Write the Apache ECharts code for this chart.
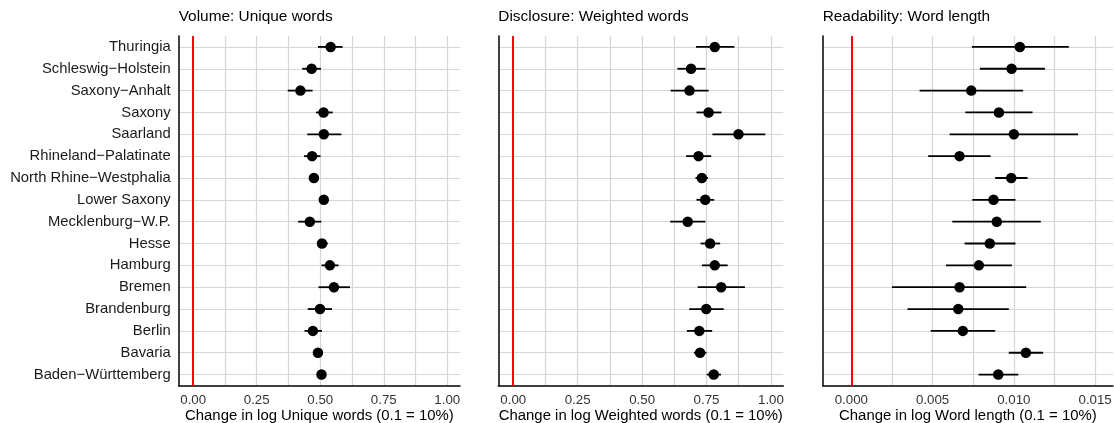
<!DOCTYPE html>
<html>
<head>
<meta charset="utf-8">
<script src="https://cdn.jsdelivr.net/npm/echarts@6/dist/echarts.min.js"></script>
<style>
html,body{margin:0;padding:0;background:#fff;}
#chart{width:1114px;height:423px;}
</style>
</head>
<body>
<div id="chart"></div>
<script>
// Categories (bottom to top)
const states = ['Baden−Württemberg','Bavaria','Berlin','Brandenburg','Bremen','Hamburg','Hesse','Mecklenburg−W.P.','Lower Saxony','North Rhine−Westphalia','Rhineland−Palatinate','Saarland','Saxony','Saxony−Anhalt','Schleswig−Holstein','Thuringia'];

// Volume: Unique words
const uniqueEst = [0.505,0.491,0.471,0.499,0.554,0.538,0.507,0.459,0.514,0.475,0.468,0.514,0.513,0.422,0.466,0.541];
const uniqueLo  = [0.491,0.478,0.438,0.451,0.493,0.505,0.488,0.413,0.499,0.462,0.436,0.449,0.483,0.372,0.429,0.491];
const uniqueHi  = [0.520,0.504,0.507,0.546,0.617,0.572,0.530,0.504,0.530,0.488,0.501,0.583,0.549,0.470,0.503,0.588];

// Disclosure: Weighted words
const weightedEst = [0.778,0.725,0.722,0.749,0.807,0.782,0.764,0.677,0.745,0.732,0.719,0.874,0.758,0.684,0.690,0.782];
const weightedLo  = [0.751,0.701,0.674,0.683,0.716,0.732,0.727,0.609,0.711,0.707,0.671,0.773,0.711,0.611,0.637,0.709];
const weightedHi  = [0.806,0.750,0.772,0.817,0.899,0.832,0.803,0.746,0.780,0.756,0.768,0.978,0.808,0.758,0.746,0.858];

// Readability: Word length
const lengthEst = [0.00904,0.01074,0.00686,0.00658,0.00666,0.00785,0.00852,0.00895,0.00875,0.00984,0.00666,0.01000,0.00908,0.00738,0.00986,0.01037];
const lengthLo  = [0.00783,0.00969,0.00488,0.00346,0.00250,0.00582,0.00697,0.00621,0.00744,0.00885,0.00473,0.00605,0.00701,0.00420,0.00791,0.00742];
const lengthHi  = [0.01027,0.01180,0.00885,0.00969,0.01076,0.00988,0.01010,0.01166,0.01010,0.01084,0.00857,0.01395,0.01115,0.01057,0.01191,0.01338];

// Tick labels and grid lines
const tickVals12 = [0, 0.25, 0.5, 0.75, 1.0];
const gridVals12 = [0, 0.125, 0.25, 0.375, 0.5, 0.625, 0.75, 0.875, 1.0];
const tickVals3 = [0, 0.005, 0.010, 0.015];
const gridVals3 = [0, 0.0025, 0.005, 0.0075, 0.010, 0.0125, 0.015];

const panelTitles = ['Volume: Unique words','Disclosure: Weighted words','Readability: Word length'];
const axisTitles = ['Change in log Unique words (0.1 = 10%)','Change in log Weighted words (0.1 = 10%)','Change in log Word length (0.1 = 10%)'];
const refLine = 0;

const FONT = '"Liberation Sans", Arial, Helvetica, sans-serif';
const panels = [
  {est: uniqueEst, lo: uniqueLo, hi: uniqueHi, min: -0.057, max: 1.05, ticks: tickVals12, grid: gridVals12, dec: 2, left: 178.7, width: 281.3},
  {est: weightedEst, lo: weightedLo, hi: weightedHi, min: -0.058, max: 1.048, ticks: tickVals12, grid: gridVals12, dec: 2, left: 498.3, width: 285},
  {est: lengthEst, lo: lengthLo, hi: lengthHi, min: -0.00176, max: 0.0161, ticks: tickVals3, grid: gridVals3, dec: 3, left: 822.7, width: 290.3}
];

const grids = [], xAxes = [], yAxes = [], series = [], titles = [];
panels.forEach((p, i) => {
  grids.push({left: p.left, width: p.width, top: 36, height: 349.5, containLabel: false, outerBoundsMode: 'none'});
  titles.push({text: panelTitles[i], left: p.left, top: 9, padding: 0,
    textStyle: {fontFamily: FONT, fontSize: 15.4, fontWeight: 'normal', color: '#000'}});
  xAxes.push({
    type: 'value', gridIndex: i, min: p.min, max: p.max,
    name: axisTitles[i], nameLocation: 'middle', nameGap: 23, nameMoveOverlap: false,
    nameTextStyle: {fontFamily: FONT, fontSize: 14.9, color: '#000', verticalAlign: 'top'},
    axisLine: {show: true, onZero: false, lineStyle: {color: '#000', width: 1.5}},
    axisTick: {show: false, customValues: p.grid},
    axisLabel: {customValues: p.ticks, margin: 8, fontFamily: FONT, fontSize: 13.3, color: '#333',
      formatter: v => v.toFixed(p.dec)},
    splitLine: {show: true, lineStyle: {color: '#d6d6d6', width: 1.2}},
    minorSplitLine: {show: false}
  });
  yAxes.push({
    type: 'category', gridIndex: i, data: states,
    axisLine: {show: true, onZero: false, lineStyle: {color: '#000', width: 1.5}},
    axisTick: {show: false},
    axisLabel: {show: i === 0, interval: 0, margin: 8, fontFamily: FONT, fontSize: 14.8, color: '#1a1a1a'},
    splitLine: {show: true, interval: 0, alignWithLabel: true, lineStyle: {color: '#d6d6d6', width: 1.2}}
  });
  const barData = p.lo.map((lo, k) => [lo, p.hi[k], k]);
  series.push({
    type: 'scatter', xAxisIndex: i, yAxisIndex: i, data: [], z: 2, silent: true,
    markLine: {silent: true, symbol: 'none', label: {show: false},
      lineStyle: {color: '#ff0000', width: 2, type: 'solid', opacity: 1},
      data: [{xAxis: refLine}], animation: false}
  });
  series.push({
    type: 'custom', xAxisIndex: i, yAxisIndex: i, data: barData, z: 3, silent: true,
    encode: {x: [0, 1], y: 2},
    renderItem: (params, api) => {
      const a = api.coord([api.value(0), api.value(2)]);
      const b = api.coord([api.value(1), api.value(2)]);
      return {type: 'line', shape: {x1: a[0], y1: a[1], x2: b[0], y2: b[1]},
        style: {stroke: '#000', lineWidth: 1.8}};
    }
  });
  series.push({
    type: 'scatter', xAxisIndex: i, yAxisIndex: i, z: 4, silent: true,
    symbol: 'circle', symbolSize: 10.5,
    itemStyle: {color: '#000', opacity: 1},
    data: p.est.map((v, k) => [v, k])
  });
});

const chart = echarts.init(document.getElementById('chart'), null, {renderer: 'canvas'});
chart.setOption({
  animation: false,
  backgroundColor: '#fff',
  title: titles,
  grid: grids,
  xAxis: xAxes,
  yAxis: yAxes,
  series: series
});
</script>
</body>
</html>
